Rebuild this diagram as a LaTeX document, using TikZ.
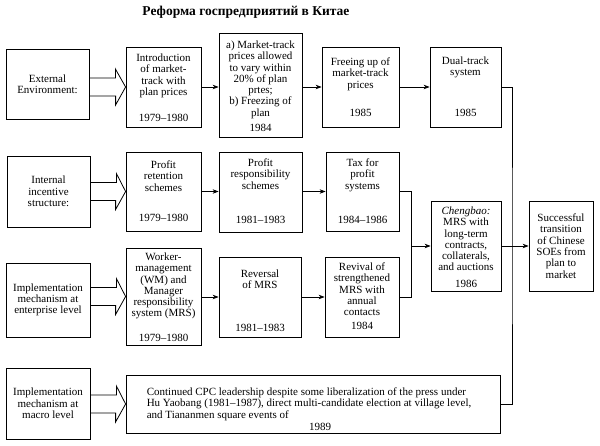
\documentclass[tikz,border=0pt]{standalone}
\usepackage{fontspec}
\setmainfont{Liberation Serif}
\usetikzlibrary{positioning,calc,arrows.meta}
\newcommand{\fatarrow}[2]{%
  \draw[fat] ($(#1.east |- #2.west)+(0,-9)$) -- ++(26,0) -- ++(0,-9)
    -- (#2.west) -- ++(-10,18) -- ++(0,-9) -- ($(#1.east |- #2.west)+(0,9)$);}
\begin{document}
\begin{tikzpicture}[x=1pt,y=-1pt,
  every node/.style={font=\fontsize{11}{11.3}\selectfont}]
        \tikzset{
        stagebox/.style={draw, line width=0.8pt, inner sep=0pt},
        side/.style={stagebox, align=center},
        txt/.style={inner sep=0pt, align=center},
        yr/.style={inner sep=0pt},
        fat/.style={line width=0.8pt, line join=miter},
        link/.style={line width=0.7pt, -{Stealth[length=6pt,width=4.5pt]}},
        bus/.style={line width=0.7pt}
        }
        \useasboundingbox (0,0) rectangle (600,446);
        \node[font=\fontsize{13.5}{16}\selectfont\bfseries] (title) at (246,12) {Реформа госпредприятий в Китае};

        % external environment
        \node[side, minimum width=83pt, minimum height=70pt] (ext) at (47.5,84) {External\\Environment:};
        \node[stagebox, minimum width=75pt, minimum height=80pt] (intro) at (163.5,87) {};
        \node[txt, below=7pt of intro.north] {Introduction\\of market-\\track with\\plan prices};
        \node[yr, above=6pt of intro.south] {1979--1980};
        \node[stagebox, minimum width=83pt, minimum height=104pt] (mkt) at (260.5,85) {};
        \node[txt, below=8pt of mkt.north] {a) Market-track\\prices allowed\\to vary within\\20\% of plan\\prtes;\\b) Freezing of\\plan};
        \node[yr, above=6pt of mkt.south] {1984};
        \node[stagebox, minimum width=77pt, minimum height=80pt] (free) at (360.5,87) {};
        \node[txt, below=11pt of free.north] {Freeing up of\\market-track\\prices};
        \node[yr, above=11pt of free.south] {1985};
        \node[stagebox, minimum width=71pt, minimum height=80pt] (dual) at (465.5,87) {};
        \node[txt, below=10pt of dual.north] {Dual-track\\system};
        \node[yr, above=11pt of dual.south] {1985};

        % internal incentive structure
        \node[side, minimum width=83pt, minimum height=71pt] (inc) at (48.5,191.5) {Internal\\incentive\\structure:};
        \node[stagebox, minimum width=75pt, minimum height=79pt] (ret) at (163.5,191.5) {};
        \node[txt, below=9pt of ret.north] {Profit\\retention\\schemes};
        \node[yr, above=10pt of ret.south] {1979--1980};
        \node[stagebox, minimum width=83pt, minimum height=80pt] (resp) at (260.5,192) {};
        \node[txt, below=7pt of resp.north] {Profit\\responsibility\\schemes};
        \node[yr, above=9pt of resp.south] {1981--1983};
        \node[stagebox, minimum width=73pt, minimum height=79pt] (tax) at (362.5,191.5) {};
        \node[txt, below=7pt of tax.north] {Tax for\\profit\\systems};
        \node[yr, above=8pt of tax.south] {1984--1986};
        \node[stagebox, minimum width=70pt, minimum height=90pt] (cheng) at (466,246) {};
        \node[txt, below=6pt of cheng.north] {\textit{Chengbao:}\\MRS with\\long-term\\contracts,\\collaterals,\\and auctions};
        \node[yr, above=4pt of cheng.south] {1986};
        \node[side, minimum width=64pt, minimum height=90pt] (succ) at (561,246) {Successful\\transition\\of Chinese\\SOEs from\\plan to\\market};

        % enterprise level
        \node[side, minimum width=84pt, minimum height=74pt] (ent) at (48,300) {Implementation\\mechanism at\\enterprise level};
        \node[stagebox, minimum width=75pt, minimum height=97pt] (wm) at (163.5,296.5) {};
        \node[txt, below=5pt of wm.north] {Worker-\\management\\(WM) and\\Manager\\responsibility\\system (MRS)};
        \node[yr, above=4pt of wm.south] {1979--1980};
        \node[stagebox, minimum width=82pt, minimum height=80pt] (rev) at (260,297) {};
        \node[txt, below=13pt of rev.north] {Reversal\\of MRS};
        \node[yr, above=6pt of rev.south] {1981--1983};
        \node[stagebox, minimum width=74pt, minimum height=80pt] (revi) at (362,297) {};
        \node[txt, below=6pt of revi.north] {Revival of\\strengthened\\MRS with\\annual\\contacts};
        \node[yr, above=8pt of revi.south] {1984};

        % macro level
        \node[side, minimum width=84pt, minimum height=71pt] (mac) at (48,403.5) {Implementation\\mechanism at\\macro level};
        \node[stagebox, minimum width=374pt, minimum height=58pt] (cont) at (313,404) {};
        \node[txt, align=left, below right=13pt and 21pt of cont.north west] {Continued CPC leadership despite some liberalization of the press under\\Hu Yaobang (1981--1987), direct multi-candidate election at village level,\\and Tiananmen square events of};
        \node[yr, above=3pt of cont.south, xshift=7pt] {1989};

        \coordinate (bus) at (512,246);
        \coordinate (join) at (411,246);

        \fatarrow{ext}{intro}
        \fatarrow{inc}{ret}
        \fatarrow{ent}{wm}
        \fatarrow{mac}{cont}

        \draw[link] (intro.east) -- (intro.east -| mkt.west);
        \draw[link] (free.west -| mkt.east) -- (free.west);
        \draw[link] (free.east) -- (dual.west);
        \draw[bus] (dual.east) -| (bus) |- (cont.east);
        \draw[link] (ret.east) -- (ret.east -| resp.west);
        \draw[link] (resp.east |- tax.west) -- (tax.west);
        \draw[link] (tax.east) -| (join) -- (cheng.west);
        \draw[bus] (revi.east) -| (join);
        \draw[link] (wm.east |- rev.west) -- (rev.west);
        \draw[link] (rev.east) -- (revi.west);
        \draw[link] (cheng.east) -- (succ.west);
        \end{tikzpicture}
\end{document}
